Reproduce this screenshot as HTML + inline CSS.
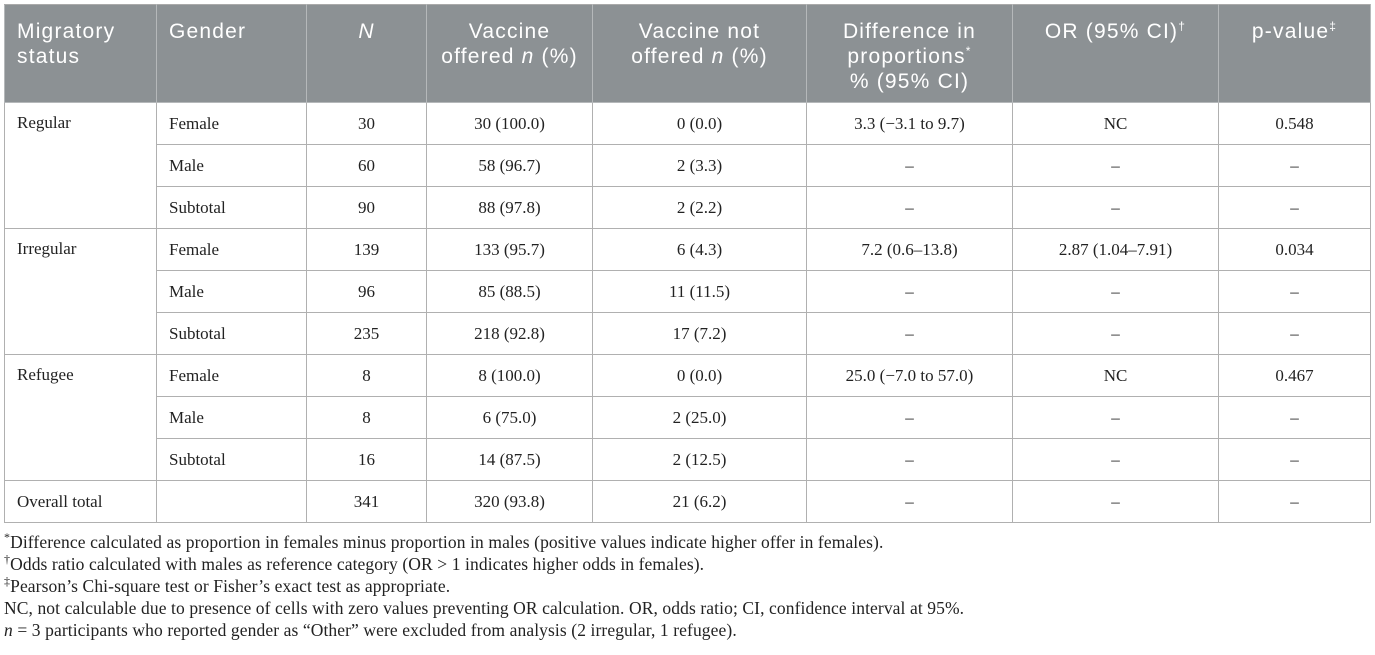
<!DOCTYPE html>
<html><head><meta charset="utf-8"><style>
body{margin:0;background:#fff;width:1375px;height:655px;overflow:hidden}
table{position:absolute;left:4px;top:4px;border-collapse:collapse;table-layout:fixed;width:1366px}
th{background:#8c9194;color:#fff;font-family:"Liberation Sans",sans-serif;font-weight:normal;font-size:21px;letter-spacing:1.2px;line-height:25px;vertical-align:top;text-align:center;padding:14px 2px 0;height:83px;border:1px solid #b5b8ba;border-top-color:#aaa;white-space:nowrap}
th.l{text-align:left;padding-left:12px}
td{font-family:"Liberation Serif",serif;font-size:17px;height:41px;padding:0 8px;text-align:center;border:1px solid #b0b0b0;color:#222}
td.l{text-align:left;padding-left:12px}
td.g{vertical-align:top;padding-top:10px}
.fn{position:absolute;left:4px;top:531px;font-family:"Liberation Serif",serif;font-size:17.5px;letter-spacing:0.1px;line-height:22px;color:#222;white-space:nowrap}
sup{font-size:12px;line-height:0}
</style></head><body>
<table>
<colgroup><col style="width:152px"><col style="width:150px"><col style="width:120px"><col style="width:166px"><col style="width:214px"><col style="width:206px"><col style="width:206px"><col style="width:152px"></colgroup>
<thead><tr>
<th class="l">Migratory<br>status</th>
<th class="l">Gender</th>
<th><i>N</i></th>
<th>Vaccine<br>offered <i>n</i> (%)</th>
<th>Vaccine not<br>offered <i>n</i> (%)</th>
<th>Difference in<br>proportions<sup>*</sup><br>% (95% CI)</th>
<th>OR (95% CI)<sup>†</sup></th>
<th>p-value<sup>‡</sup></th>
</tr></thead>
<tbody>
<tr><td class="l g" rowspan="3">Regular</td><td class="l">Female</td><td>30</td><td>30 (100.0)</td><td>0 (0.0)</td><td>3.3 (−3.1 to 9.7)</td><td>NC</td><td>0.548</td></tr>
<tr><td class="l">Male</td><td>60</td><td>58 (96.7)</td><td>2 (3.3)</td><td>–</td><td>–</td><td>–</td></tr>
<tr><td class="l">Subtotal</td><td>90</td><td>88 (97.8)</td><td>2 (2.2)</td><td>–</td><td>–</td><td>–</td></tr>
<tr><td class="l g" rowspan="3">Irregular</td><td class="l">Female</td><td>139</td><td>133 (95.7)</td><td>6 (4.3)</td><td>7.2 (0.6–13.8)</td><td>2.87 (1.04–7.91)</td><td>0.034</td></tr>
<tr><td class="l">Male</td><td>96</td><td>85 (88.5)</td><td>11 (11.5)</td><td>–</td><td>–</td><td>–</td></tr>
<tr><td class="l">Subtotal</td><td>235</td><td>218 (92.8)</td><td>17 (7.2)</td><td>–</td><td>–</td><td>–</td></tr>
<tr><td class="l g" rowspan="3">Refugee</td><td class="l">Female</td><td>8</td><td>8 (100.0)</td><td>0 (0.0)</td><td>25.0 (−7.0 to 57.0)</td><td>NC</td><td>0.467</td></tr>
<tr><td class="l">Male</td><td>8</td><td>6 (75.0)</td><td>2 (25.0)</td><td>–</td><td>–</td><td>–</td></tr>
<tr><td class="l">Subtotal</td><td>16</td><td>14 (87.5)</td><td>2 (12.5)</td><td>–</td><td>–</td><td>–</td></tr>
<tr><td class="l">Overall total</td><td></td><td>341</td><td>320 (93.8)</td><td>21 (6.2)</td><td>–</td><td>–</td><td>–</td></tr>
</tbody></table>
<div class="fn">
<div><sup>*</sup>Difference calculated as proportion in females minus proportion in males (positive values indicate higher offer in females).</div>
<div><sup>†</sup>Odds ratio calculated with males as reference category (OR &gt; 1 indicates higher odds in females).</div>
<div><sup>‡</sup>Pearson’s Chi-square test or Fisher’s exact test as appropriate.</div>
<div>NC, not calculable due to presence of cells with zero values preventing OR calculation. OR, odds ratio; CI, confidence interval at 95%.</div>
<div><i>n</i> = 3 participants who reported gender as “Other” were excluded from analysis (2 irregular, 1 refugee).</div>
</div>
</body></html>
